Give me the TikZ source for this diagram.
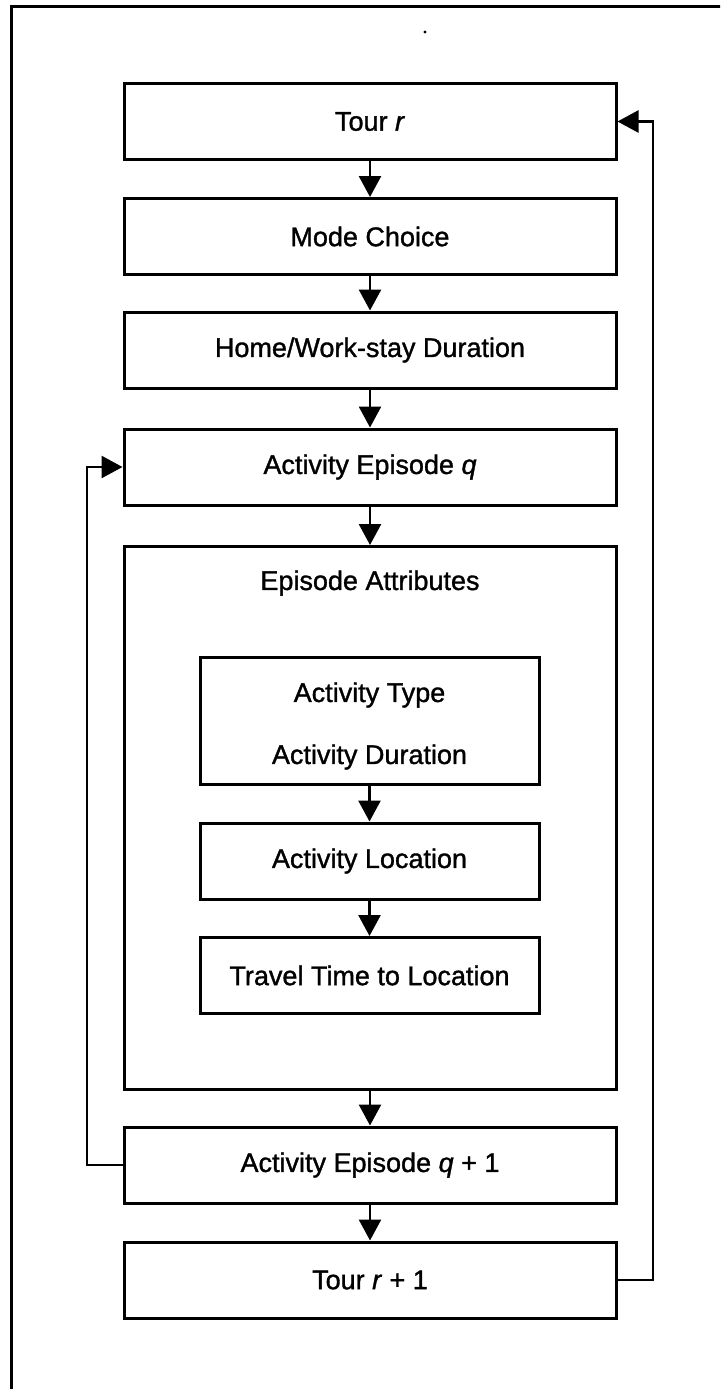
\documentclass[tikz,border=0pt]{standalone}
\usepackage{fontspec}
\setmainfont[FakeBold=1.2,AutoFakeBold=1.2]{Liberation Sans}
\newfontfamily\labelfont[FakeBold=1.4]{Liberation Sans}
\usetikzlibrary{arrows.meta}
\begin{document}
\begin{tikzpicture}[x=1pt,y=-1pt,
  lbl/.style={font=\fontsize{27}{32}\selectfont\bfseries},
  box/.style={draw, line width=3pt, minimum width=492pt, minimum height=76pt,
              inner sep=0pt, lbl},
  innerbox/.style={box, minimum width=339pt},
  flow/.style={line width=2.6pt, -{Triangle[length=21pt,width=22pt]}},
  link/.style={line width=2.6pt}]
\useasboundingbox (0,0) rectangle (720,1389);
\begin{scope}
  \clip (0,0) rectangle (720,1389);
  % page frame
  \draw[line width=3pt] (11,1400) -- (11,7) -- (730,7);
  \fill (425,32) circle (1.7pt);

  % main chain
  \node[box] (tourr)  at (370,121.5) {Tour \textit{r}};
  \node[box] (mode)   at (370,236.5) {Mode Choice};
  \node[box] (home)   at (370,350)   {Home/Work-stay Duration};
  \node[box] (epq)    at (370,467)   {Activity Episode \textit{q}};
  \node[box, minimum height=543pt, anchor=north] (attr) at (370,545) {};
  \node[lbl] (attrtitle) at (370,583) {Episode Attributes};
  \node[innerbox, minimum height=127pt] (type) at (369.5,720.5) {};
  \node[lbl] (typetxt) at (369.5,695) {Activity Type};
  \node[lbl] (durtxt)  at (369.5,757) {Activity Duration};
  \node[innerbox] (loc)    at (369.5,861)   {Activity Location};
  \node[innerbox] (travel) at (369.5,975.5) {Travel Time to Location};
  \node[box] (epq1)   at (370,1165)  {Activity Episode \textit{q} + 1};
  \node[box] (tourr1) at (370,1280)  {Tour \textit{r} + 1};

  % forward arrows
  \draw[flow] (tourr.south) -- (mode.north);
  \draw[flow] (mode.south) -- (home.north);
  \draw[flow] (home.south) -- (epq.north);
  \draw[flow] (epq.south) -- (attr.north);
  \draw[flow] (type.south) -- (loc.north);
  \draw[flow] (loc.south) -- (travel.north);
  \draw[flow] (attr.south) -- (epq1.north);
  \draw[flow] (epq1.south) -- (tourr1.north);

  % feedback loops
  \coordinate (lq) at (87,1165);
  \coordinate (rr) at (653,1280);
  \draw[flow] (epq1.west) -- (lq) |- (epq.west);
  \draw[flow] (tourr1.east) -- (rr) |- (tourr.east);
\end{scope}
\end{tikzpicture}
\end{document}
